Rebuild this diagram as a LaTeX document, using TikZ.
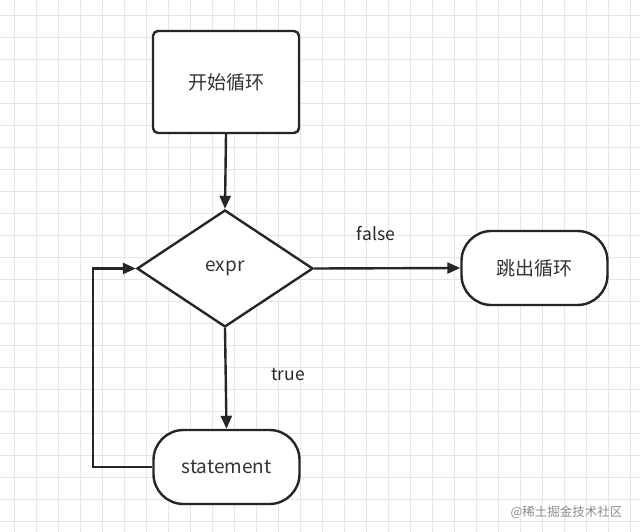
\documentclass[tikz,border=0pt]{standalone}
\usepackage{fontspec}
\setmainfont{Noto Sans CJK SC}
\usetikzlibrary{shapes.geometric,arrows.meta}
\begin{document}
\begin{tikzpicture}[x=1pt,y=-1pt,
  box/.style={draw=black!85, line width=2.4pt, fill=white, rounded corners=5pt, minimum width=146pt, minimum height=102pt, inner sep=0pt, font=\fontsize{19}{22}\selectfont, text=black!80},
  term/.style={draw=black!85, line width=2.4pt, fill=white, rounded corners=30pt, minimum width=146pt, minimum height=74pt, inner sep=0pt, font=\fontsize{19}{22}\selectfont, text=black!80},
  cond/.style={draw=black!85, line width=2.4pt, fill=white, diamond, minimum width=176pt, minimum height=117pt, inner sep=0pt, font=\fontsize{19}{22}\selectfont, text=black!80},
  flow/.style={draw=black!85, line width=2.4pt, -{Triangle[length=13pt,width=11pt]}},
  lbl/.style={font=\fontsize{17.5}{20}\selectfont, text=black!85},
  gridline/.style={draw=black!10, line width=0.8pt}]
\useasboundingbox (0,0) rectangle (640,532);
\fill[white] (0,0) rectangle (640,532);
\foreach \i in {0,...,29} { \draw[gridline] (14+22*\i,0) -- (14+22*\i,532); }
\foreach \j in {0,...,24} { \draw[gridline] (0,15+22*\j) -- (640,15+22*\j); }
\node[box] (start) at (226,82) {开始循环};
\node[cond] (expr) at (225,268.5) {expr};
\node[term] (exit) at (534.5,268) {跳出循环};
\node[term] (stmt) at (226.5,467) {statement};
\coordinate (c1) at (93,467);
\coordinate (c2) at (93,268.5);
\draw[flow] (start.south) -- (expr.north);
\draw[flow] (expr.east) -- (exit.west);
\draw[flow] (expr.south) -- (stmt.north);
\draw[flow] (stmt.west) -- (c1) -- (c2) -- (expr.west);
\node[lbl] (lf) at (376,234) {false};
\node[lbl] (lt) at (288,375) {true};
\node[font=\fontsize{12.5}{14}\selectfont, text=black!45, anchor=east] (wm) at (626,512) {@稀土掘金技术社区};
\end{tikzpicture}
\end{document}
